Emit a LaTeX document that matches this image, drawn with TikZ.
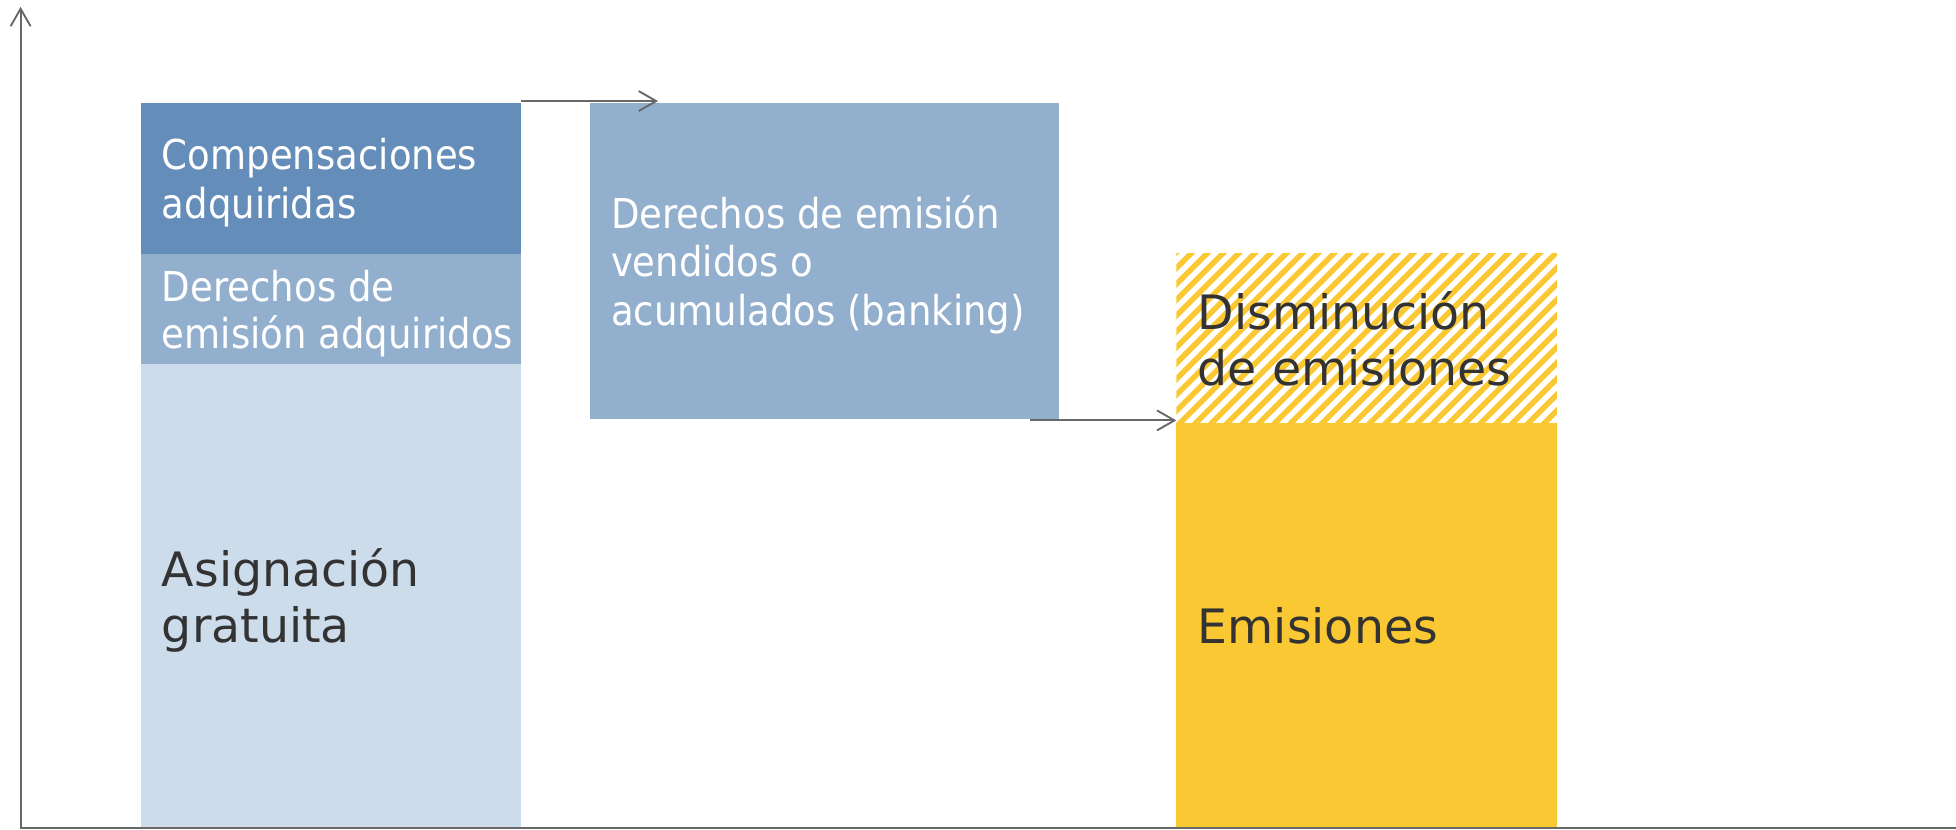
\documentclass[tikz,border=0pt]{standalone}
\usepackage{fontspec}
\setmainfont{DejaVu Sans}
\newfontfamily\condf[FakeStretch=0.9]{DejaVu Sans}
\usetikzlibrary{arrows.meta}
\definecolor{compblue}{HTML}{658DBA}
\definecolor{midblue}{HTML}{92AFCD}
\definecolor{paleblue}{HTML}{CCDCEB}
\definecolor{sun}{HTML}{F9C832}
\definecolor{darktext}{HTML}{333333}
\definecolor{axisgray}{HTML}{686868}
\begin{document}
\begin{tikzpicture}[x=1pt,y=-1pt,
  bar/.style={rectangle, inner sep=0pt, outer sep=0pt, draw=none, anchor=north west},
  wtxt/.style={anchor=base west, inner sep=0pt, text=white, font=\condf\fontsize{33}{39}\selectfont},
  dtxt/.style={anchor=base west, inner sep=0pt, text=darktext, font=\fontsize{38}{45}\selectfont},
  axisline/.style={draw=axisgray, line width=1.5pt},
  conn/.style={axisline, -{Straight Barb[length=14pt,width=16pt]}},
  hatchline/.style={draw=sun, line width=4.4pt}]
\useasboundingbox (0,0) rectangle (1568,665);

% bars
\node[bar, fill=compblue, minimum width=304.7pt, minimum height=121.1pt] (comp) at (113,82.6) {};
\node[bar, fill=midblue, minimum width=304.7pt, minimum height=88.1pt] (der) at (113,203.7) {};
\node[bar, fill=paleblue, minimum width=304.7pt, minimum height=372.4pt] (asig) at (113,291.8) {};
\node[bar, fill=midblue, minimum width=376pt, minimum height=253pt] (vend) at (473,82.6) {};
\node[bar, minimum width=305pt, minimum height=135.2pt] (dism) at (943,203.6) {};
\node[bar, fill=sun, minimum width=305pt, minimum height=325.4pt] (emis) at (943,338.8) {};

% hatching
\begin{scope}
  \clip (dism.south west) rectangle (dism.north east);
  \foreach \k in {-13,...,26} \draw[hatchline] (943+\k*12.7, 342) -- ++(145,-145);
\end{scope}

% texts
\node[wtxt] (tcomp) at (129.6,136) {\vtop{\baselineskip=39pt\hbox{Compensaciones}\hbox{adquiridas}}};
\node[wtxt] (tder) at (129.6,242) {\vtop{\baselineskip=37pt\hbox{Derechos de}\hbox{emisión adquiridos}}};
\node[dtxt] (tasig) at (129.6,470) {\vtop{\baselineskip=45pt\hbox{Asignación}\hbox{gratuita}}};
\node[wtxt] (tvend) at (489.6,183) {\vtop{\baselineskip=38.8pt\hbox{Derechos de emisión}\hbox{vendidos o}\hbox{acumulados (banking)}}};
\node[dtxt] (tdism) at (960,263.8) {\vtop{\baselineskip=45pt\hbox{Disminución}\hbox{de emisiones}}};
\node[dtxt] (temis) at (960,515.7) {Emisiones};

% axes
\coordinate (origin) at (16.5,664);
\coordinate (ytop) at (16.5,5.5);
\coordinate (xend) at (1568,664);
\draw[conn] (origin) -- (ytop);
\draw[axisline] ([xshift=-0.75pt]origin) -- (xend);

% connectors
\coordinate (a1end) at (527.5,81);
\draw[conn] ([yshift=1.6pt]comp.north east) -- (a1end);
\coordinate (a2start) at (826,337);
\draw[conn] (a2start) -- (a2start -| dism.west);
\end{tikzpicture}
\end{document}
